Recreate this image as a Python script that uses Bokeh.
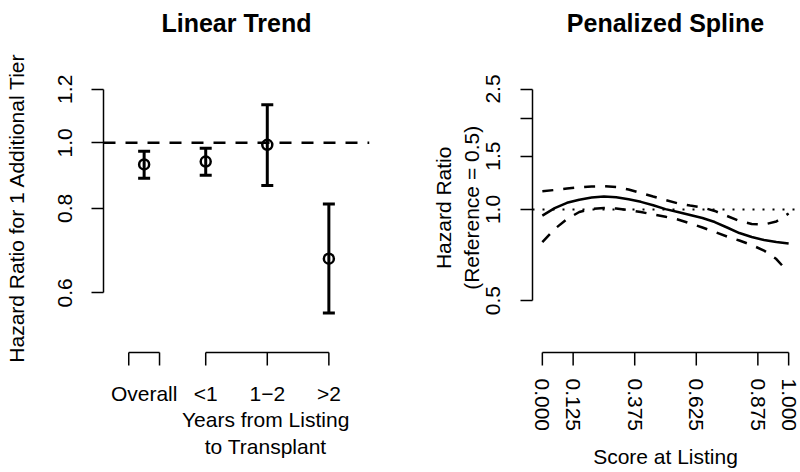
from bokeh.plotting import figure
from bokeh.models import Range1d, FixedTicker, PrintfTickFormatter, Span
from bokeh.core.properties import value
from bokeh.layouts import row
from bokeh.embed import file_html
from bokeh.resources import INLINE

FONT = "Liberation Sans"
NB = "\u00a0"

# ---------------- Left panel data (Linear Trend) ----------------
group_pos = [0, 1, 2, 3]
group_labels = ["Overall", "<1", "1\u22122", ">2"]
hr_est = [0.929, 0.938, 0.993, 0.674]
hr_low = [0.886, 0.895, 0.865, 0.560]
hr_high = [0.972, 0.982, 1.138, 0.812]
left_yticks = [0.6, 0.8, 1.0, 1.2]
overall_bracket = [-0.25, 0.25]
years_bracket = [1, 2, 3]

# ---------------- Right panel data (Penalized Spline) ----------------
score = [0.00, 0.05, 0.10, 0.15, 0.20, 0.25, 0.30, 0.35, 0.40, 0.45, 0.50,
         0.55, 0.60, 0.65, 0.70, 0.75, 0.80, 0.85, 0.90, 0.95, 1.00]
spline_fit = [0.955, 1.010, 1.052, 1.077, 1.095, 1.104, 1.098, 1.081, 1.060, 1.033, 1.003,
              0.981, 0.959, 0.937, 0.909, 0.872, 0.836, 0.811, 0.793, 0.781, 0.772]
spline_upper = [1.149, 1.160, 1.173, 1.184, 1.191, 1.193, 1.187, 1.164, 1.134, 1.104, 1.075,
                1.048, 1.031, 1.015, 0.989, 0.952, 0.916, 0.896, 0.892, 0.913, 0.970]
spline_lower = [0.780, 0.862, 0.930, 0.981, 1.004, 1.011, 1.008, 0.996, 0.981, 0.963, 0.946,
                0.927, 0.900, 0.872, 0.843, 0.814, 0.790, 0.763, 0.732, 0.686, 0.619]
score_ticks = [0.000, 0.125, 0.375, 0.625, 0.875, 1.000]
right_yticks = [0.5, 1.0, 1.5, 2.5]
right_yminor = [2.0]

PAD = NB * 8   # trailing padding: centres the rotated y titles on the data region


def style_common(p):
    p.grid.visible = False
    p.outline_line_color = None
    p.background_fill_color = "white"
    p.border_fill_color = "white"


def add_title(p, text, x, y):
    p.text(x=[x], y=[y], text=[text], text_font=value(FONT), text_font_size="25px",
           text_font_style="bold", text_color="black", text_align="center",
           text_baseline="alphabetic")


def style_axis(ax, tick_out=12):
    ax.axis_line_width = 1.5
    ax.axis_line_color = "black"
    ax.major_tick_line_width = 1.5
    ax.major_tick_line_color = "black"
    ax.major_tick_out = tick_out
    ax.major_tick_in = 0
    ax.minor_tick_line_color = None
    ax.major_label_text_font = FONT
    ax.major_label_text_font_size = "21px"
    ax.major_label_text_color = "black"
    ax.axis_label_text_font = FONT
    ax.axis_label_text_font_size = "21px"
    ax.axis_label_text_font_style = "normal"
    ax.axis_label_text_color = "black"


def draw_brackets(p, brackets, y_line, y_tick):
    x0, y0, x1, y1 = [], [], [], []
    for br in brackets:
        x0.append(min(br)); x1.append(max(br)); y0.append(y_line); y1.append(y_line)
        for t in br:
            x0.append(t); x1.append(t); y0.append(y_line); y1.append(y_tick)
    p.segment(x0=x0, y0=y0, x1=x1, y1=y1, line_color="black", line_width=1.5)


# ================= Left figure =================
p1 = figure(width=400, height=472,
            x_range=Range1d(-0.66, 3.66), y_range=Range1d(0.4636, 1.6237),
            y_axis_type="log", output_backend="svg", toolbar_location=None,
            min_border_left=103, min_border_right=31, min_border_top=0, min_border_bottom=104)
style_common(p1)
add_title(p1, "Linear Trend", 1.5, 1.5064)

ya = p1.yaxis[0]
style_axis(ya, 12)
ya.ticker = FixedTicker(ticks=left_yticks, minor_ticks=[])
ya.formatter = PrintfTickFormatter(format="%.1f")
ya.bounds = (min(left_yticks), max(left_yticks))
ya.major_label_orientation = "vertical"
ya.major_label_standoff = 19
ya.axis_label = "Hazard Ratio for 1 Additional Tier" + PAD
ya.axis_label_standoff = 28

xa = p1.xaxis[0]
style_axis(xa, 0)
xa.ticker = FixedTicker(ticks=group_pos, minor_ticks=[])
xa.major_label_overrides = {k: v for k, v in zip(group_pos, group_labels)}
xa.axis_line_color = None
xa.major_tick_line_color = None
xa.major_label_standoff = 13
xa.axis_label = NB * 10 + "Years from Listing\n" + NB * 10 + "to Transplant"
xa.axis_label_standoff = 0

# brackets under the categories (drawn at fixed levels below the data)
draw_brackets(p1, [overall_bracket, years_bracket], 0.4896, 0.4684)

p1.add_layout(Span(location=1.0, dimension="width", line_color="black",
                   line_width=2.5, line_dash="12 10"))
p1.segment(x0=group_pos, y0=hr_low, x1=group_pos, y1=hr_high, line_color="black", line_width=3)
p1.scatter(group_pos, hr_low, marker="dash", size=12, line_color="black", line_width=3)
p1.scatter(group_pos, hr_high, marker="dash", size=12, line_color="black", line_width=3)
p1.scatter(group_pos, hr_est, marker="circle", size=10, fill_color=None,
           line_color="black", line_width=2.5)

# ================= Right figure =================
p2 = figure(width=400, height=472,
            x_range=Range1d(-0.04, 1.04), y_range=Range1d(0.29845, 4.9009),
            y_axis_type="log", output_backend="svg", toolbar_location=None,
            min_border_left=132, min_border_right=2, min_border_top=0, min_border_bottom=104)
style_common(p2)
add_title(p2, "Penalized Spline", 0.5, 4.1454)

ya2 = p2.yaxis[0]
style_axis(ya2, 12)
ya2.ticker = FixedTicker(ticks=right_yticks, minor_ticks=right_yminor)
ya2.formatter = PrintfTickFormatter(format="%.1f")
ya2.bounds = (min(right_yticks), max(right_yticks))
ya2.minor_tick_line_color = "black"
ya2.minor_tick_line_width = 1.5
ya2.minor_tick_out = 12
ya2.minor_tick_in = 0
ya2.major_label_orientation = "vertical"
ya2.major_label_standoff = 20
ya2.axis_label = "Hazard Ratio" + PAD + "\n(Reference = 0.5)" + PAD
ya2.axis_label_standoff = 1

xa2 = p2.xaxis[0]
style_axis(xa2, 0)
xa2.ticker = FixedTicker(ticks=score_ticks, minor_ticks=[])
xa2.formatter = PrintfTickFormatter(format="%.3f")
xa2.axis_line_color = None
xa2.major_tick_line_color = None
xa2.major_label_orientation = "vertical"
xa2.major_label_standoff = 10
xa2.axis_label = "Score at Listing"
xa2.axis_label_standoff = 11

draw_brackets(p2, [score_ticks], 0.33709, 0.30535)

p2.add_layout(Span(location=1.0, dimension="width", line_color="black",
                   line_width=2, line_dash="2 8"))
p2.line(score, spline_upper, line_color="black", line_width=2.5, line_dash="11 10")
p2.line(score, spline_lower, line_color="black", line_width=2.5, line_dash="11 10")
p2.line(score, spline_fit, line_color="black", line_width=2.5)

layout = row(p1, p2)
open("out.html", "w").write(file_html(layout, INLINE))
